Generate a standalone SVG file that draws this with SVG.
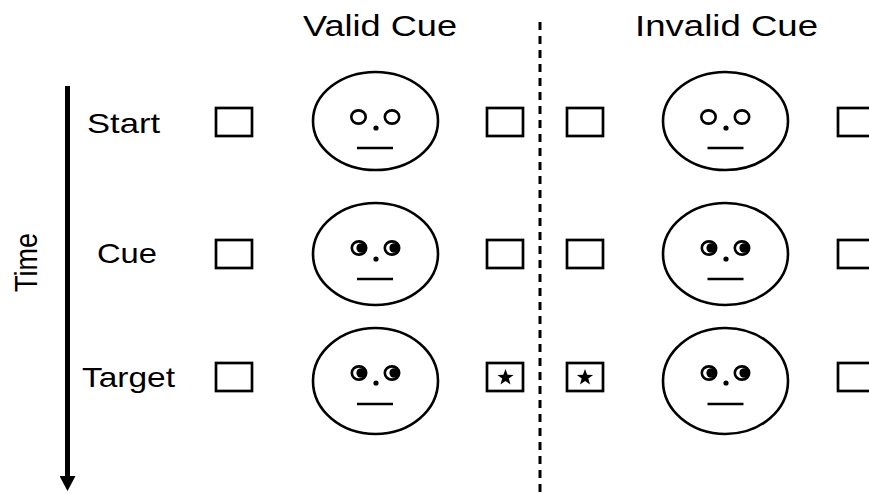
<svg xmlns="http://www.w3.org/2000/svg" xmlns:xlink="http://www.w3.org/1999/xlink" width="869" height="494" viewBox="0 0 869 494">
  <style>
    .lbl { font-family: "Liberation Sans", Arial, sans-serif; fill: #000; }
    .box { fill: #fff; stroke: #000; stroke-width: 2.7; }
    .head { fill: #fff; stroke: #000; stroke-width: 2.6; }
    .ring { fill: #fff; stroke: #000; stroke-width: 2.6; }
    .ink { fill: #000; }
    .mouth { stroke: #000; stroke-width: 2.5; fill: none; }
  </style>
  <defs>
    <!-- neutral eye: open ring -->
    <g id="eyeOpen"><ellipse class="ring" cx="0" cy="0" rx="7.2" ry="6.6"/></g>
    <!-- averted eye: ring with pupil pushed right -->
    <g id="eyeRight"><ellipse class="ring" cx="0" cy="0" rx="7.2" ry="6.6"/><circle class="ink" cx="2.2" cy="0" r="4.8"/></g>
    <path id="star" class="ink" d="M0,-8.5 L2.1,-2.8 L8.1,-2.6 L3.3,1.1 L5,6.9 L0,3.5 L-5,6.9 L-3.3,1.1 L-8.1,-2.6 L-2.1,-2.8 Z"/>
    <marker id="head" markerWidth="4.4" markerHeight="3.2" refX="0.2" refY="1.6" orient="auto" markerUnits="strokeWidth">
      <path d="M0,0 L3,1.6 L0,3.2 Z" fill="#000"/>
    </marker>
  </defs>

  <!-- column titles -->
  <text class="lbl" x="303" y="36" font-size="30" textLength="154" lengthAdjust="spacingAndGlyphs">Valid Cue</text>
  <text class="lbl" x="635" y="36" font-size="30" textLength="183" lengthAdjust="spacingAndGlyphs">Invalid Cue</text>

  <!-- row labels -->
  <text class="lbl" x="87" y="133" font-size="28" textLength="73" lengthAdjust="spacingAndGlyphs">Start</text>
  <text class="lbl" x="97" y="263" font-size="28" textLength="60" lengthAdjust="spacingAndGlyphs">Cue</text>
  <text class="lbl" x="82" y="387" font-size="28" textLength="93" lengthAdjust="spacingAndGlyphs">Target</text>
  <text class="lbl" font-size="27" text-anchor="middle" transform="translate(37,262.5) scale(1.19,1) rotate(-90)">Time</text>

  <g id="connectors">
    <!-- time axis -->
    <line x1="67.5" y1="86" x2="67.5" y2="477" stroke="#000" stroke-width="5" marker-end="url(#head)"/>
    <!-- divider between conditions -->
    <line x1="540" y1="22" x2="540" y2="494" stroke="#000" stroke-width="3" stroke-dasharray="8,6"/>
  </g>

  <!-- Valid cue, start -->
  <g id="valid-start">
    <rect class="box" x="216" y="108" width="36" height="28"/>
    <ellipse class="head" cx="375.5" cy="121" rx="62.5" ry="49"/>
    <use xlink:href="#eyeOpen" x="358.5" y="117"/>
    <use xlink:href="#eyeOpen" x="392" y="117"/>
    <circle class="ink" cx="376" cy="128" r="2.6"/>
    <line class="mouth" x1="357" y1="148" x2="393" y2="148"/>
    <rect class="box" x="487" y="108" width="36" height="28"/>
  </g>

  <!-- Valid cue, cue -->
  <g id="valid-cue">
    <rect class="box" x="216" y="240" width="36" height="28"/>
    <ellipse class="head" cx="375.5" cy="254" rx="62.5" ry="51"/>
    <use xlink:href="#eyeRight" x="359" y="248"/>
    <use xlink:href="#eyeRight" x="392" y="248"/>
    <circle class="ink" cx="376" cy="259" r="2.6"/>
    <line class="mouth" x1="357" y1="279" x2="393" y2="279"/>
    <rect class="box" x="487" y="240" width="36" height="28"/>
  </g>

  <!-- Valid cue, target -->
  <g id="valid-target">
    <rect class="box" x="216" y="363" width="36" height="28"/>
    <ellipse class="head" cx="375.5" cy="381" rx="62.5" ry="53"/>
    <use xlink:href="#eyeRight" x="359" y="373"/>
    <use xlink:href="#eyeRight" x="392" y="373"/>
    <circle class="ink" cx="376" cy="383" r="2.6"/>
    <line class="mouth" x1="357" y1="404" x2="393" y2="404"/>
    <rect class="box" x="487" y="363" width="36" height="28"/>
    <use xlink:href="#star" x="505.5" y="377.5"/>
  </g>

  <!-- Invalid cue, start -->
  <g id="invalid-start">
    <rect class="box" x="567" y="108" width="36" height="28"/>
    <ellipse class="head" cx="725.5" cy="121" rx="62.5" ry="49"/>
    <use xlink:href="#eyeOpen" x="708.5" y="117"/>
    <use xlink:href="#eyeOpen" x="742" y="117"/>
    <circle class="ink" cx="726" cy="128" r="2.6"/>
    <line class="mouth" x1="707.5" y1="148" x2="743.5" y2="148"/>
    <rect class="box" x="838" y="108" width="36" height="28"/>
  </g>

  <!-- Invalid cue, cue -->
  <g id="invalid-cue">
    <rect class="box" x="567" y="240" width="36" height="28"/>
    <ellipse class="head" cx="725.5" cy="254" rx="62.5" ry="51"/>
    <use xlink:href="#eyeRight" x="709" y="248"/>
    <use xlink:href="#eyeRight" x="742" y="248"/>
    <circle class="ink" cx="726" cy="259" r="2.6"/>
    <line class="mouth" x1="707.5" y1="279" x2="743.5" y2="279"/>
    <rect class="box" x="838" y="240" width="36" height="28"/>
  </g>

  <!-- Invalid cue, target -->
  <g id="invalid-target">
    <rect class="box" x="567" y="363" width="36" height="28"/>
    <use xlink:href="#star" x="585" y="377.5"/>
    <ellipse class="head" cx="725.5" cy="381" rx="62.5" ry="53"/>
    <use xlink:href="#eyeRight" x="709" y="373"/>
    <use xlink:href="#eyeRight" x="742" y="373"/>
    <circle class="ink" cx="726" cy="383" r="2.6"/>
    <line class="mouth" x1="707.5" y1="404" x2="743.5" y2="404"/>
    <rect class="box" x="838" y="363" width="36" height="28"/>
  </g>
</svg>
